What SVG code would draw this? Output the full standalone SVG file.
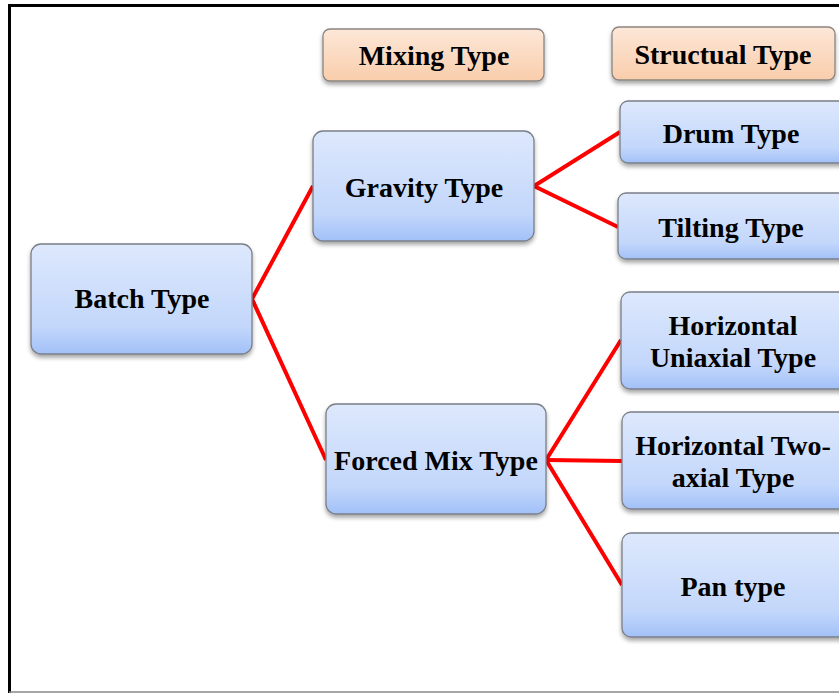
<svg xmlns="http://www.w3.org/2000/svg" width="839" height="693" viewBox="0 0 839 693">
<defs>
<linearGradient id="blue" x1="0" y1="0" x2="0" y2="1">
<stop offset="0" stop-color="#dde8fc"/>
<stop offset="0.75" stop-color="#c3d7fb"/>
<stop offset="1" stop-color="#a2c1f8"/>
</linearGradient>
<linearGradient id="peach" x1="0" y1="0" x2="0" y2="1">
<stop offset="0" stop-color="#fde7d8"/>
<stop offset="1" stop-color="#f9cdab"/>
</linearGradient>
<filter id="sh" x="-10%" y="-10%" width="120%" height="130%">
<feDropShadow dx="0" dy="3" stdDeviation="2" flood-color="#000" flood-opacity="0.35"/>
</filter>
<style>
.b{fill:url(#blue);stroke:#7a7f88;stroke-width:1.3;filter:url(#sh)}
.h{fill:url(#peach);stroke:#8a8580;stroke-width:1.3;filter:url(#sh)}
text{font-family:"Liberation Serif","Times New Roman",serif;font-weight:bold;font-size:28px;fill:#000;text-anchor:middle}
.c{stroke:#ff0000;stroke-width:4;fill:none;stroke-linejoin:miter}
</style>
</defs>
<rect width="839" height="693" fill="#fff"/>
<g id="frame" fill="none">
<line x1="8" y1="5.5" x2="839" y2="5.5" stroke="#000" stroke-width="3"/>
<line x1="9.5" y1="4" x2="9.5" y2="693" stroke="#000" stroke-width="3"/>
<line x1="9" y1="692" x2="839" y2="692" stroke="#888" stroke-width="1.5"/>
</g>
<g id="connectors">
<polyline class="c" points="313,186 252,299 326,460"/>
<polyline class="c" points="620,132 534,186 618,227"/>
<polyline class="c" points="621,340 546,460 622,585"/>
<line class="c" x1="546" y1="460" x2="622" y2="461"/>
</g>
<g id="mixing-type"><rect class="h" x="323" y="29" width="221" height="52" rx="7"/><text x="434" y="65">Mixing Type</text></g>
<g id="structual-type"><rect class="h" x="612" y="27" width="223" height="53" rx="7"/><text x="723" y="64">Structual Type</text></g>
<g id="batch-type"><rect class="b" x="31" y="244" width="221" height="110" rx="10"/><text x="142" y="308">Batch Type</text></g>
<g id="gravity-type"><rect class="b" x="313" y="131" width="221" height="110" rx="10"/><text x="424" y="197">Gravity Type</text></g>
<g id="forced-mix-type"><rect class="b" x="326" y="404" width="220" height="110" rx="10"/><text x="436" y="470">Forced Mix Type</text></g>
<g id="drum-type"><rect class="b" x="620" y="101" width="230" height="62" rx="8"/><text x="731" y="143">Drum Type</text></g>
<g id="tilting-type"><rect class="b" x="618" y="193" width="232" height="66" rx="8"/><text x="731" y="237">Tilting Type</text></g>
<g id="horizontal-uniaxial-type"><rect class="b" x="621" y="292" width="229" height="97" rx="9"/><text x="733" y="335">Horizontal</text><text x="733" y="367">Uniaxial Type</text></g>
<g id="horizontal-two-axial-type"><rect class="b" x="622" y="412" width="228" height="97" rx="9"/><text x="733" y="455">Horizontal Two-</text><text x="733" y="487">axial Type</text></g>
<g id="pan-type"><rect class="b" x="622" y="533" width="228" height="104" rx="9"/><text x="733" y="596">Pan type</text></g>
</svg>
